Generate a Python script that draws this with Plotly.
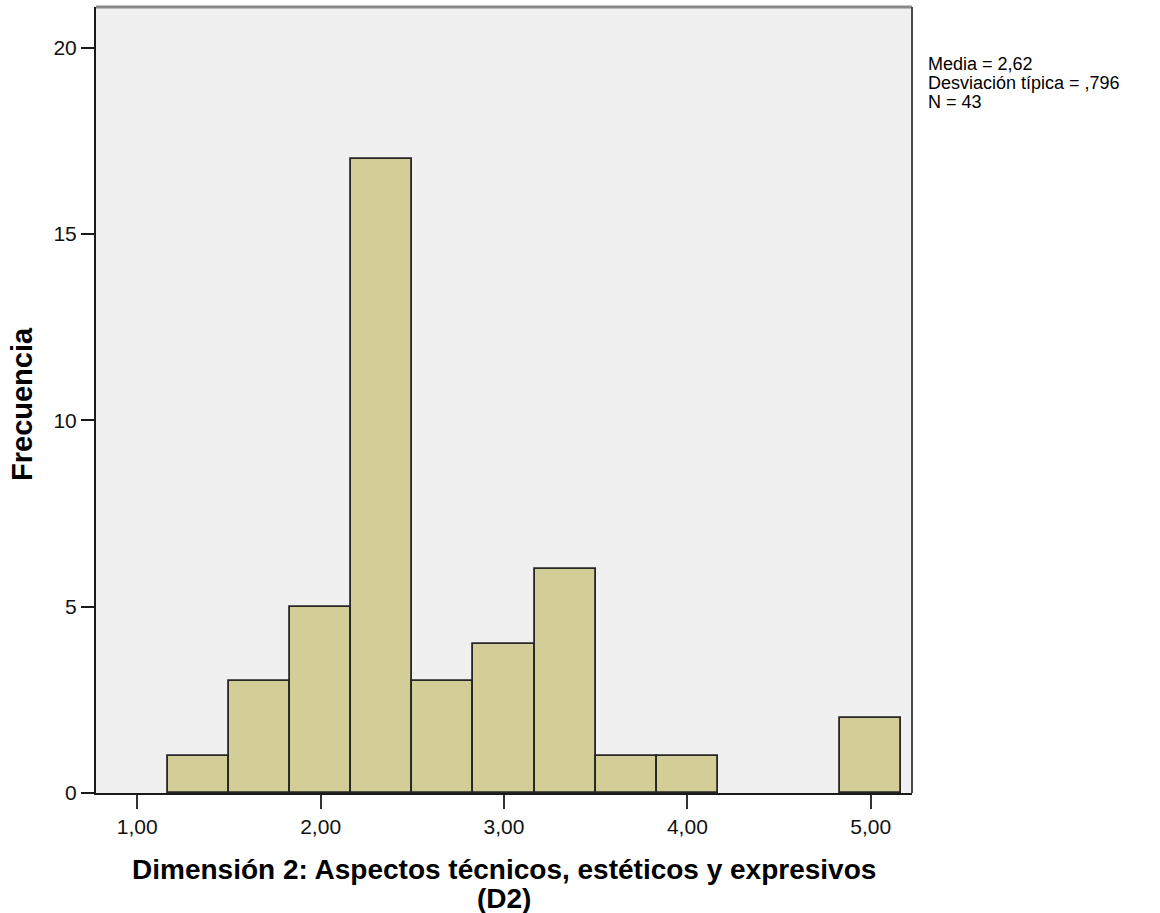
import plotly.graph_objects as go

# Histogram of D2 scores: bin centres (width 1/3) and frequencies
bin_centers = [4/3, 5/3, 2.0, 7/3, 8/3, 3.0, 10/3, 11/3, 4.0, 13/3, 14/3, 5.0]
frequencies = [1, 3, 5, 17, 3, 4, 6, 1, 1, 0, 0, 2]
bin_width = 1/3

x_tick_vals = [1, 2, 3, 4, 5]
x_tick_text = ["1,00", "2,00", "3,00", "4,00", "5,00"]
y_tick_vals = [0, 5, 10, 15, 20]

x_title_lines = ["Dimensión 2: Aspectos técnicos, estéticos y expresivos", "(D2)"]
y_title = "Frecuencia"
stats_lines = ["Media = 2,62", "Desviación típica = ,796", "N = 43"]

FONT = "Liberation Sans, Arial, sans-serif"

# empty bins get no outline so nothing is drawn on the baseline
outline_widths = [1.8 if f > 0 else 0 for f in frequencies]

fig = go.Figure()
fig.add_trace(go.Bar(
    x=bin_centers,
    y=frequencies,
    width=bin_width,
    marker=dict(color="#D3CE97", line=dict(color="#262626", width=outline_widths)),
    hoverinfo="x+y",
))

fig.update_layout(
    width=1160,
    height=913,
    margin=dict(l=96, r=248, t=7, b=120),
    paper_bgcolor="white",
    plot_bgcolor="#F0F0F0",
    showlegend=False,
    bargap=0,
    font=dict(family=FONT, color="black"),
)

fig.update_xaxes(
    range=[0.775, 5.225],
    tickvals=x_tick_vals,
    ticktext=x_tick_text,
    ticks="outside",
    ticklen=14,
    tickwidth=2,
    tickcolor="#333333",
    tickfont=dict(size=21, family=FONT, color="#111111"),
    showline=True,
    linecolor="#1a1a1a",
    linewidth=2,
    showgrid=False,
    zeroline=False,
)

fig.update_yaxes(
    range=[0, 21.09],
    tickvals=y_tick_vals,
    ticks="outside",
    ticklen=13,
    tickwidth=2,
    tickcolor="#1a1a1a",
    tickfont=dict(size=21, family=FONT, color="#111111"),
    showline=True,
    linecolor="#1a1a1a",
    linewidth=2,
    showgrid=False,
    zeroline=False,
)

# Frame: grey top edge and dark right edge
fig.add_shape(type="line", xref="paper", yref="paper", x0=0, x1=1, y0=1, y1=1,
              line=dict(color="#8a8a8a", width=3))
fig.add_shape(type="line", xref="paper", yref="paper", x0=1, x1=1, y0=0, y1=1,
              line=dict(color="#4a4a4a", width=2))

# Axis titles (x title on two lines with tight spacing)
plot_h = 913 - 7 - 120
for i, line in enumerate(x_title_lines):
    fig.add_annotation(
        xref="paper", yref="paper",
        x=0.5, y=-(869 + 29 * i - 793) / plot_h,
        xanchor="center", yanchor="middle",
        showarrow=False,
        borderpad=0,
        text=f"<b>{line}</b>",
        font=dict(size=28, family=FONT, color="black"),
    )

fig.add_annotation(
    xref="paper", yref="paper",
    x=-(96 - 22) / 816, y=(793 - 404) / plot_h,
    xanchor="center", yanchor="middle",
    textangle=-90,
    showarrow=False,
    text=f"<b>{y_title}</b>",
    font=dict(size=29, family=FONT, color="black"),
)

# Summary statistics beside the plot
for i, line in enumerate(stats_lines):
    fig.add_annotation(
        xref="paper", yref="paper",
        x=(927 - 96) / 816, y=(793 - (64 + 19 * i)) / plot_h,
        xanchor="left", yanchor="middle",
        align="left",
        showarrow=False,
        borderpad=0,
        text=line,
        font=dict(size=18, family=FONT, color="black"),
    )

fig.write_html("out.html")
